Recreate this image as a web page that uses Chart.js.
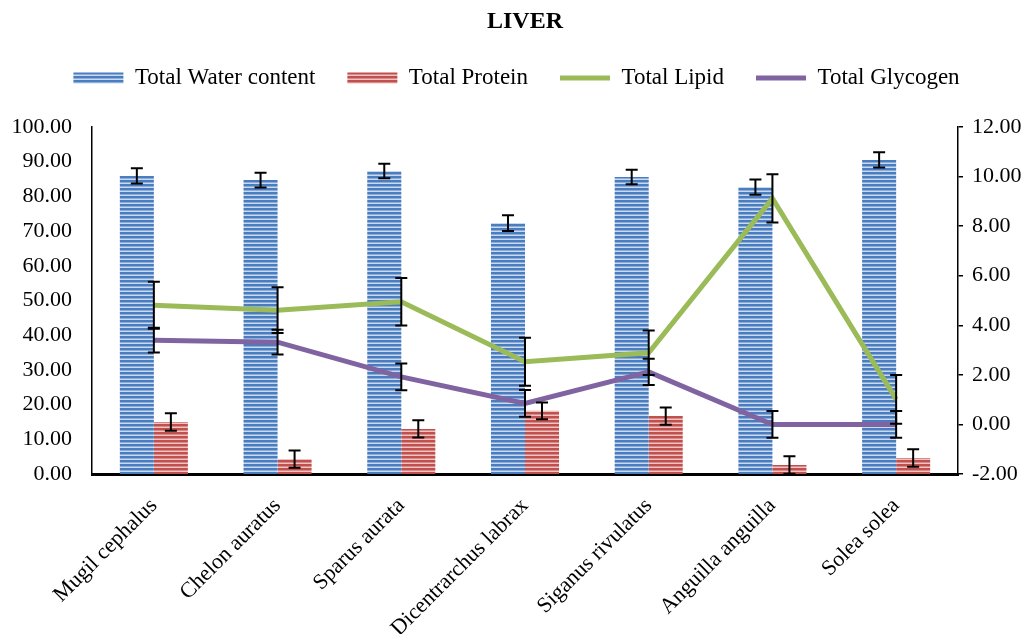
<!DOCTYPE html>
<html>
<head>
<meta charset="utf-8">
<script src="https://cdn.jsdelivr.net/npm/chart.js@4"></script>
<style>
  html, body { margin: 0; padding: 0; background: #fff; }
  #c { display: block; }
</style>
</head>
<body>
<canvas id="c" width="1033" height="634"></canvas>
<script>
const categories = ['Mugil cephalus', 'Chelon auratus', 'Sparus aurata', 'Dicentrarchus labrax', 'Siganus rivulatus', 'Anguilla anguilla', 'Solea solea'];
const waterContent = [85.9, 84.7, 87.3, 72.3, 85.6, 82.7, 90.5];
const waterErr = [2.2, 2.1, 2.1, 2.3, 2.1, 2.2, 2.2];
const protein = [15.0, 4.3, 13.0, 18.2, 16.7, 2.6, 4.6];
const proteinErr = [2.5, 2.5, 2.5, 2.4, 2.5, 2.5, 2.5];
const lipid = [4.81, 4.61, 4.95, 2.53, 2.89, 9.12, 1.01];
const lipidErr = [0.95, 0.92, 0.96, 0.97, 0.9, 0.97, 0.98];
const glycogen = [3.40, 3.32, 1.92, 0.85, 2.12, 0.0, 0.0];
const glycogenErr = [0.5, 0.5, 0.54, 0.54, 0.53, 0.54, 0.54];
const leftTicks = [0, 10, 20, 30, 40, 50, 60, 70, 80, 90, 100];
const rightTicks = [-2, 0, 2, 4, 6, 8, 10, 12];

function stripePattern(dark, mid, light) {
  const pc = document.createElement('canvas');
  pc.width = 4; pc.height = 4;
  const g = pc.getContext('2d');
  g.fillStyle = dark; g.fillRect(0, 0, 4, 2);
  g.fillStyle = mid; g.fillRect(0, 2, 4, 1);
  g.fillStyle = light; g.fillRect(0, 3, 4, 1);
  return g.createPattern(pc, 'repeat');
}
const bluePat = stripePattern('#4a7cc0', '#8dadd9', '#c9d9ef');
const redPat = stripePattern('#c0504d', '#d98a88', '#f0c4c3');

const SERIF = '"Liberation Serif", "Times New Roman", serif';
Chart.defaults.font.family = SERIF;
Chart.defaults.color = '#000';

const errorBars = {
  id: 'errorBars',
  afterDatasetsDraw(chart) {
    const ctx = chart.ctx;
    ctx.save();
    ctx.strokeStyle = '#000';
    ctx.lineWidth = 2;
    chart.data.datasets.forEach((ds, i) => {
      const meta = chart.getDatasetMeta(i);
      const scale = chart.scales[ds.yAxisID];
      meta.data.forEach((el, j) => {
        const v = ds.data[j], e = ds.errors[j];
        const x = el.x;
        const yt = scale.getPixelForValue(v + e);
        const yb = scale.getPixelForValue(v - e);
        const hw = 6;
        ctx.beginPath();
        ctx.moveTo(x, yt); ctx.lineTo(x, yb);
        ctx.moveTo(x - hw, yt); ctx.lineTo(x + hw, yt);
        ctx.moveTo(x - hw, yb); ctx.lineTo(x + hw, yb);
        ctx.stroke();
      });
    });
    ctx.restore();
  }
};

new Chart(document.getElementById('c'), {
  data: {
    labels: categories,
    datasets: [
      { type: 'bar', label: 'Total Water content', data: waterContent, errors: waterErr, yAxisID: 'y',
        backgroundColor: bluePat, borderWidth: 0, pointStyle: 'rect', order: 2,
        categoryPercentage: 0.55, barPercentage: 1.0 },
      { type: 'bar', label: 'Total Protein', data: protein, errors: proteinErr, yAxisID: 'y',
        backgroundColor: redPat, borderWidth: 0, pointStyle: 'rect', order: 2,
        categoryPercentage: 0.55, barPercentage: 1.0 },
      { type: 'line', label: 'Total Lipid', data: lipid, errors: lipidErr, yAxisID: 'y1',
        borderColor: '#9bbb59', backgroundColor: '#9bbb59', borderWidth: 5, tension: 0,
        pointRadius: 0, pointHoverRadius: 0, pointStyle: 'line', order: 1 },
      { type: 'line', label: 'Total Glycogen', data: glycogen, errors: glycogenErr, yAxisID: 'y1',
        borderColor: '#8064a2', backgroundColor: '#8064a2', borderWidth: 5, tension: 0,
        pointRadius: 0, pointHoverRadius: 0, pointStyle: 'line', order: 1 }
    ]
  },
  options: {
    responsive: false,
    animation: false,
    layout: { padding: 0 },
    plugins: {
      tooltip: { enabled: false },
      title: {
        display: true, text: 'LIVER', fullSize: false,
        font: { size: 24, weight: 'bold', family: SERIF, lineHeight: 1 },
        padding: { top: 10, bottom: 0.5 }, color: '#000'
      },
      subtitle: {
        display: true, text: '', weight: 500,
        font: { size: 27.5, lineHeight: 1 }, padding: 0
      },
      legend: {
        position: 'top',
        labels: {
          font: { size: 23, family: SERIF },
          usePointStyle: true, pointStyleWidth: 50, boxHeight: 11,
          padding: 32, color: '#000',
          sort: (a, b) => a.datasetIndex - b.datasetIndex
        }
      }
    },
    scales: {
      x: {
        grid: { display: false, drawTicks: false },
        border: { display: true, color: '#000', width: 3 },
        ticks: { font: { size: 22, family: SERIF }, maxRotation: 45, minRotation: 45, padding: 19, color: '#000' },
        afterFit(s) { s.height = 160; }
      },
      y: {
        position: 'left', min: 0, max: 100,
        afterBuildTicks(s) { s.ticks = leftTicks.map(v => ({ value: v })); },
        grid: { display: false, drawTicks: false },
        border: { display: true, color: '#000', width: 1.5 },
        ticks: { font: { size: 22, family: SERIF }, padding: 20, color: '#000', callback: v => Number(v).toFixed(2) },
        afterFit(s) { s.width = 92; }
      },
      y1: {
        position: 'right', min: -2, max: 12,
        afterBuildTicks(s) { s.ticks = rightTicks.map(v => ({ value: v })); },
        grid: { display: true, drawOnChartArea: false, drawTicks: true, tickLength: 5, color: '#000', lineWidth: 1.5 },
        border: { display: true, color: '#000', width: 1.5 },
        ticks: { font: { size: 22, family: SERIF }, padding: 9, color: '#000', callback: v => Number(v).toFixed(2) },
        afterFit(s) { s.width = 75; }
      }
    }
  },
  plugins: [errorBars]
});
</script>
</body>
</html>
